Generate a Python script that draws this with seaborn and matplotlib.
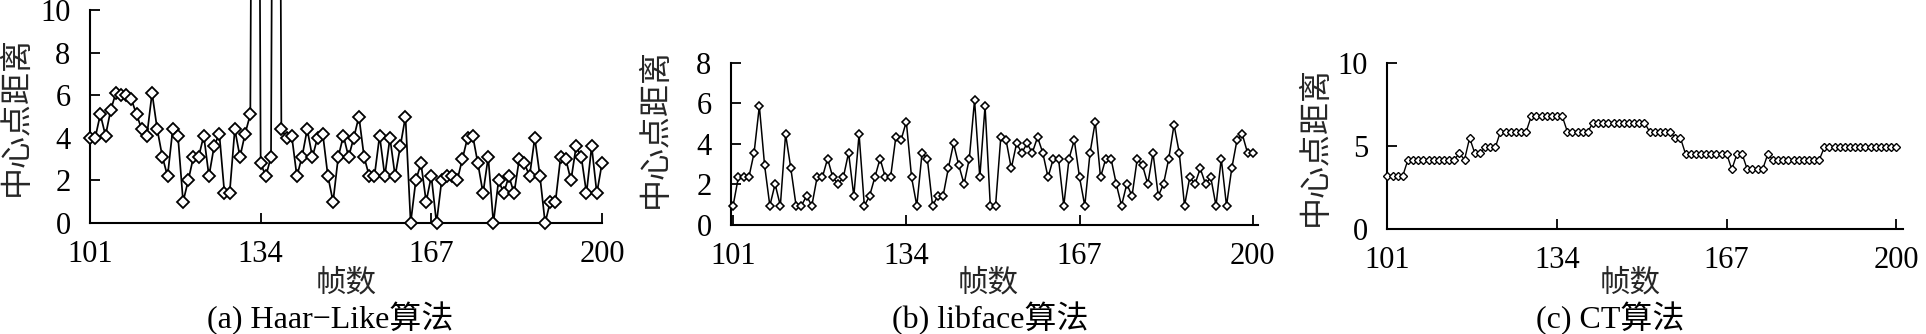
import numpy as np
import pandas as pd
import matplotlib
matplotlib.use("Agg")
import matplotlib.pyplot as plt
import matplotlib.transforms as mtransforms
import seaborn as sns

# ---------------- data ----------------
frames = list(range(101, 201))

haar = [4.0, 4.0, 5.1, 4.1, 5.3, 6.1, 6.0, 6.0, 5.8, 5.1,
        4.4, 4.1, 6.1, 4.4, 3.1, 2.2, 4.4, 4.1, 1.0, 2.0,
        3.1, 3.1, 4.1, 2.2, 3.6, 4.2, 1.4, 1.4, 4.4, 3.1,
        4.2, 5.1, 60.0, 2.8, 2.2, 3.1, 60.0, 4.4, 4.0, 4.1,
        2.2, 3.1, 4.4, 3.1, 4.0, 4.2, 2.2, 1.0, 3.1, 4.1,
        3.1, 4.0, 5.0, 3.1, 2.2, 2.2, 4.1, 2.2, 4.0, 2.2,
        3.6, 5.0, 0.0, 2.0, 2.8, 1.0, 2.2, 0.0, 2.0, 2.2,
        2.2, 2.0, 3.0, 4.0, 4.1, 2.8, 1.4, 3.1, 0.0, 2.0,
        1.4, 2.2, 1.4, 3.0, 2.8, 2.2, 4.0, 2.2, 0.0, 1.0,
        1.0, 3.1, 3.0, 2.0, 3.6, 3.1, 1.4, 3.6, 1.4, 2.8]

libface = [0.95, 2.35, 2.35, 2.35, 3.56, 5.86, 2.94, 0.95, 2.02, 0.95,
           4.48, 2.79, 0.95, 0.95, 1.43, 0.95, 2.35, 2.35, 3.27, 2.35,
           2.02, 2.35, 3.56, 1.43, 4.48, 0.95, 1.43, 2.35, 3.27, 2.35,
           2.35, 4.33, 4.19, 5.10, 2.35, 0.95, 3.56, 3.27, 0.95, 1.43,
           1.43, 2.79, 4.02, 2.94, 2.02, 3.27, 6.16, 2.35, 5.86, 0.95,
           0.95, 4.33, 4.19, 2.79, 4.02, 3.56, 4.02, 3.56, 4.33, 3.56,
           2.35, 3.27, 3.27, 0.95, 3.27, 4.19, 2.35, 0.95, 3.56, 5.10,
           2.35, 3.27, 3.27, 2.02, 0.95, 2.02, 1.43, 3.27, 2.94, 2.02,
           3.56, 1.43, 2.02, 3.27, 4.94, 3.56, 0.95, 2.35, 2.02, 2.79,
           2.02, 2.35, 0.95, 3.27, 0.95, 2.79, 4.19, 4.48, 3.56, 3.56]

ct = [3.22, 3.22, 3.22, 3.22, 4.18, 4.18, 4.18, 4.18, 4.18, 4.18,
      4.18, 4.18, 4.18, 4.18, 4.57, 4.18, 5.50, 4.57, 4.57, 4.93,
      4.93, 4.93, 5.88, 5.88, 5.88, 5.88, 5.88, 5.88, 6.82, 6.82,
      6.82, 6.82, 6.82, 6.82, 6.82, 5.88, 5.88, 5.88, 5.88, 5.88,
      6.42, 6.42, 6.42, 6.42, 6.42, 6.42, 6.42, 6.42, 6.42, 6.42,
      6.42, 5.88, 5.88, 5.88, 5.88, 5.88, 5.50, 5.50, 4.53, 4.53,
      4.53, 4.53, 4.53, 4.53, 4.53, 4.53, 4.53, 3.60, 4.53, 4.53,
      3.60, 3.60, 3.60, 3.60, 4.53, 4.17, 4.17, 4.17, 4.17, 4.17,
      4.17, 4.17, 4.17, 4.17, 4.17, 4.93, 4.93, 4.93, 4.93, 4.93,
      4.93, 4.93, 4.93, 4.93, 4.93, 4.93, 4.93, 4.93, 4.93, 4.93]

x_ticks = [101, 134, 167, 200]
y_ticks_a = [0, 2, 4, 6, 8, 10]
y_ticks_b = [0, 2, 4, 6, 8]
y_ticks_c = [0, 5, 10]
x_label = "帧数"
y_label = "中心点距离"
titles = ["(a) Haar\u2212Like算法", "(b) libface算法", "(c) CT算法"]

# ---------------- style ----------------
sns.set_theme(style="ticks")
plt.rcParams["font.family"] = ["Liberation Serif", "Noto Sans CJK SC"]
plt.rcParams["axes.unicode_minus"] = True

W, H = 1926, 334
fig = plt.figure(figsize=(W / 100, H / 100), dpi=100)
fig.patch.set_facecolor("white")

def px_axes(left, right, top, bottom):
    return fig.add_axes([left / W, (H - bottom) / H, (right - left) / W, (bottom - top) / H])

ax_a = px_axes(90, 602, 10, 223)
ax_b = px_axes(731, 1258, 62.7, 225)
ax_c = px_axes(1387.4, 1903, 63.3, 229)

# (ax, values, xlim, ylim, yticks, marker size, edge width, line width,
#  ylabel x (px), ylabel y (axes frac), xlabel x (px), title x (px))
panels = [
    (ax_a, haar, (101, 200), (0, 10), y_ticks_a, 5.8, 1.3, 1.25, 16, 0.5, 346, 330),
    (ax_b, libface, (100.6, 201.0), (0, 8), y_ticks_b, 4.4, 1.15, 1.1, 655, 0.6, 988, 990),
    (ax_c, ct, (101, 201.3), (0, 10), y_ticks_c, 4.3, 1.0, 1.0, 1315, 0.5, 1630, 1610),
]

for ax, vals, xl, yl, yt, ms, mew, lw, ylab_x, ylab_y, xlab_x, title_x in panels:
    df = pd.DataFrame({"frame": frames, "dist": vals})
    sns.lineplot(data=df, x="frame", y="dist", ax=ax, color="black",
                 marker="D", markersize=ms, markerfacecolor="white",
                 markeredgecolor="black", markeredgewidth=mew, linewidth=lw,
                 errorbar=None)
    for ln in ax.lines:
        ln.set_clip_on(False)
        ln.set_zorder(5)
    ax.set_xlim(*xl)
    ax.set_ylim(*yl)
    ax.set_xticks(x_ticks)
    ax.set_yticks(yt)
    for s in ["top", "right"]:
        ax.spines[s].set_visible(False)
    for s in ["left", "bottom"]:
        ax.spines[s].set_linewidth(1.5)
        ax.spines[s].set_color("black")
    ax.tick_params(axis="both", direction="in", length=7, width=1.3,
                   colors="black", labelsize=22)
    ax.tick_params(axis="x", pad=12)
    ax.tick_params(axis="y", pad=14)
    ax.set_facecolor("white")
    ax.grid(False)

    ax.set_xlabel(x_label, fontsize=22, family=["Noto Sans CJK SC"])
    ax.xaxis.set_label_coords(xlab_x / W, (H - 283) / H, transform=fig.transFigure)
    ax.xaxis.label.set_va("center")

    ax.set_ylabel(y_label, fontsize=23, family=["Noto Sans CJK SC"])
    ax.yaxis.set_label_coords(ylab_x / W, ylab_y,
                              transform=mtransforms.blended_transform_factory(fig.transFigure, ax.transAxes))
    ax.yaxis.label.set_va("center")

    fig.text(title_x / W, (H - 318) / H, titles[[ax_a, ax_b, ax_c].index(ax)],
             ha="center", va="center", fontsize=23,
             family=["Liberation Serif", "Noto Sans CJK SC"], color="black")

fig.savefig("out.png", dpi=100, facecolor="white")
